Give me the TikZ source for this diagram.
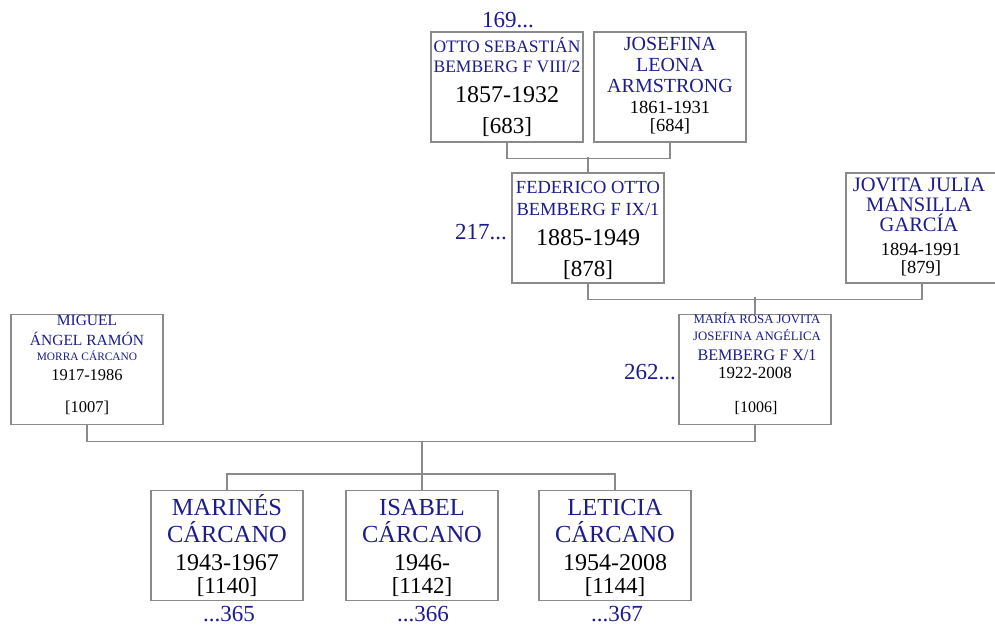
\documentclass[tikz,border=0pt]{standalone}
\usepackage{fontspec}
\setmainfont{Liberation Serif}
\definecolor{nameblue}{RGB}{28,28,140}
\definecolor{boxgray}{RGB}{138,138,138}
\definecolor{linegray}{RGB}{138,138,138}
\newcommand\fsz[1]{\fontsize{#1}{#1}\selectfont}
\begin{document}
\begin{tikzpicture}[x=1pt,y=-1pt,
  box/.style={draw=boxgray, line width=1.2pt, minimum width=152pt, minimum height=110pt, inner sep=0pt},
  conn/.style={draw=linegray, line width=1.2pt},
  nm/.style={text=nameblue, anchor=base, inner sep=0pt},
  dt/.style={text=black, anchor=base, inner sep=0pt},
  ref/.style={text=nameblue, inner sep=0pt, font=\fsz{23}}
]
\clip (0,0) rectangle (995,624);
\fill[white] (0,0) rectangle (995,624);

% boxes
\node[box] (otto) at (507,87) {};
\node[box] (jose) at (670,87) {};
\node[box] (fed) at (588,228) {};
\node[box] (jov) at (922,228) {};
\node[box] (mig) at (87,369.5) {};
\node[box] (mar) at (755,369.5) {};
\node[box] (c1) at (227,545.5) {};
\node[box] (c2) at (422,545.5) {};
\node[box] (c3) at (615,545.5) {};

% Otto
\node[ref, anchor=base] (r169) at (508,27) {169...};
\node[nm, font=\fsz{17.5}] (otto1) at (507,52) {OTTO SEBASTIÁN};
\node[nm, font=\fsz{17.5}] (otto2) at (507,72) {BEMBERG F VIII/2};
\node[dt, font=\fsz{24}] (otto3) at (507,102) {1857-1932};
\node[dt, font=\fsz{23}] (otto4) at (507,133) {[683]};

% Josefina
\node[nm, font=\fsz{20}] (jose1) at (670,50) {JOSEFINA};
\node[nm, font=\fsz{20}] (jose2) at (670,71) {LEONA};
\node[nm, font=\fsz{20}] (jose3) at (670,92) {ARMSTRONG};
\node[dt, font=\fsz{18.5}] (jose4) at (670,113) {1861-1931};
\node[dt, font=\fsz{18.5}] (jose5) at (670,131.5) {[684]};

% Federico
\node[ref, anchor=base east] (r217) at (507,239) {217...};
\node[nm, font=\fsz{18.5}] (fed1) at (588,193) {FEDERICO OTTO};
\node[nm, font=\fsz{18.5}] (fed2) at (588,215) {BEMBERG F IX/1};
\node[dt, font=\fsz{24}] (fed3) at (588,245) {1885-1949};
\node[dt, font=\fsz{23}] (fed4) at (588,276) {[878]};

% Jovita
\node[nm, font=\fsz{20.5}] (jov1) at (919,191) {JOVITA JULIA};
\node[nm, font=\fsz{20.5}] (jov2) at (919,211) {MANSILLA};
\node[nm, font=\fsz{20.5}] (jov3) at (919,231) {GARCÍA};
\node[dt, font=\fsz{18.5}] (jov4) at (921,255) {1894-1991};
\node[dt, font=\fsz{18.5}] (jov5) at (921,273.5) {[879]};

% Miguel
\node[nm, font=\fsz{15.5}] (mig1) at (87,325) {MIGUEL};
\node[nm, font=\fsz{15.5}] (mig2) at (87,345) {ÁNGEL RAMÓN};
\node[nm, font=\fsz{11.4}] (mig3) at (87,360) {MORRA CÁRCANO};
\node[dt, font=\fsz{16.5}] (mig4) at (87,380) {1917-1986};
\node[dt, font=\fsz{16.5}] (mig5) at (87,412) {[1007]};

% Maria
\node[ref, anchor=base east] (r262) at (676,379) {262...};
\node[nm, font=\fsz{12.8}] (mar1) at (757,323) {MARÍA ROSA JOVITA};
\node[nm, font=\fsz{12.8}] (mar2) at (757,340) {JOSEFINA ANGÉLICA};
\node[nm, font=\fsz{16.1}] (mar3) at (757,360) {BEMBERG F X/1};
\node[dt, font=\fsz{17}] (mar4) at (755,378) {1922-2008};
\node[dt, font=\fsz{16}] (mar5) at (756,412) {[1006]};

% children
\node[nm, font=\fsz{24.5}] (c1a) at (227,515) {MARINÉS};
\node[nm, font=\fsz{24.5}] (c1b) at (227,542) {CÁRCANO};
\node[dt, font=\fsz{24}] (c1c) at (227,570) {1943-1967};
\node[dt, font=\fsz{23}] (c1d) at (227,593) {[1140]};
\node[ref, anchor=base] (r365) at (229,621) {...365};

\node[nm, font=\fsz{24.5}] (c2a) at (422,515) {ISABEL};
\node[nm, font=\fsz{24.5}] (c2b) at (422,542) {CÁRCANO};
\node[dt, font=\fsz{24}] (c2c) at (422,570) {1946-};
\node[dt, font=\fsz{23}] (c2d) at (422,593) {[1142]};
\node[ref, anchor=base] (r366) at (423,621) {...366};

\node[nm, font=\fsz{24.5}] (c3a) at (615,515) {LETICIA};
\node[nm, font=\fsz{24.5}] (c3b) at (615,542) {CÁRCANO};
\node[dt, font=\fsz{24}] (c3c) at (615,570) {1954-2008};
\node[dt, font=\fsz{23}] (c3d) at (615,593) {[1144]};
\node[ref, anchor=base] (r367) at (617,621) {...367};

% connectors
\draw[conn] (otto.south) -- ++(0,16) -| (jose.south);
\draw[conn] (fed.north) -- ++(0,-15);
\draw[conn] (fed.south) -- ++(0,16) -| (jov.south);
\draw[conn] (mar.north) -- ++(0,-16.5);
\draw[conn] (mig.south) -- ++(0,16) -| (mar.south);
\coordinate (fam) at (422,440.5);
\coordinate (sib) at (422,474);
\draw[conn] (fam) -- (sib);
\draw[conn] (sib) -| (c1.north);
\draw[conn] (sib) -| (c3.north);
\draw[conn] (sib) -- (c2.north);
\end{tikzpicture}
\end{document}
